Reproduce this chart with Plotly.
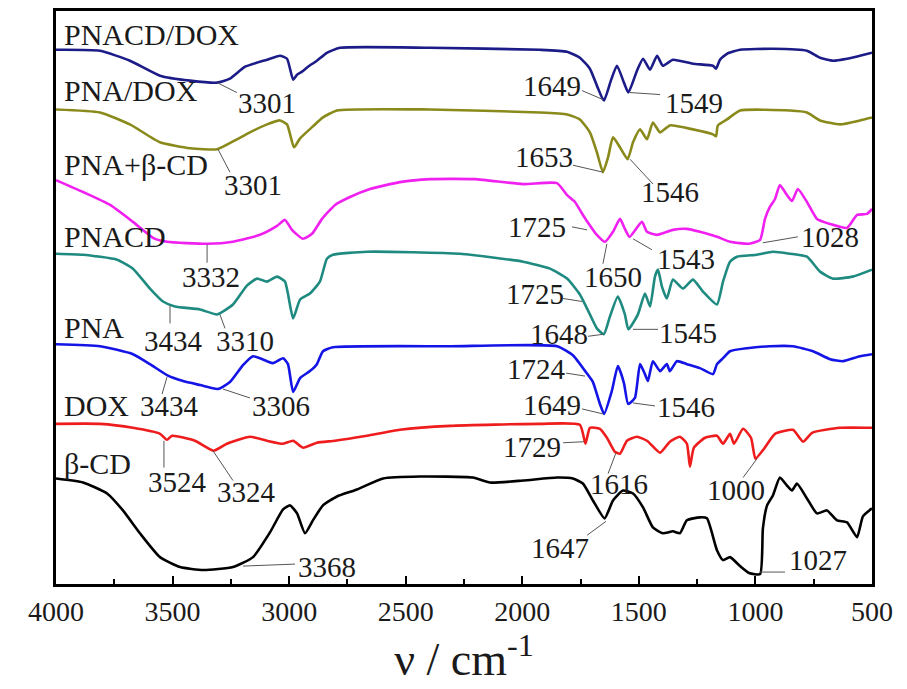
import plotly.graph_objects as go

# ---------------- data (wavenumber in cm^-1, intensity in arbitrary offset units) ----------------
pnacd_dox_wn = [4000, 3811, 3683, 3554, 3425, 3309, 3254, 3189, 3095, 3039, 3009, 2983, 2966, 2945, 2919, 2881,
                2838, 2782, 2396, 1924, 1808, 1753, 1710, 1680, 1650, 1620, 1594, 1564, 1545, 1508, 1482, 1452,
                1422, 1397, 1354, 1268, 1182, 1169, 1152, 1122, 1066, 925, 779, 723, 667, 607, 552, 500]
pnacd_dox_i = [537, 536, 526, 511, 506, 504, 508, 520, 527, 531, 528, 507, 512, 515, 520, 526,
               534, 539, 539, 537, 535, 529, 518, 501, 486, 506, 521, 504, 494, 516, 528, 517,
               531, 521, 527, 523, 521, 518, 527, 533, 537, 538, 536, 529, 526, 528, 531, 534]

pna_dox_wn = [4000, 3811, 3683, 3554, 3425, 3309, 3232, 3168, 3095, 3039, 3009, 2979, 2953, 2898, 2855, 2795,
              2396, 1924, 1808, 1753, 1710, 1680, 1654, 1632, 1611, 1581, 1548, 1525, 1495, 1465, 1440, 1409,
              1367, 1268, 1182, 1169, 1161, 1122, 1066, 852, 779, 723, 637, 552, 500]
pna_dox_i = [477, 474, 462, 444, 438, 437, 446, 454, 462, 466, 462, 439, 448, 460, 469, 476,
             477, 474, 472, 467, 454, 434, 414, 429, 449, 439, 427, 444, 457, 447, 464, 454,
             461, 457, 452, 450, 461, 467, 476, 476, 474, 466, 462, 466, 469]

pna_bcd_wn = [4000, 3884, 3768, 3670, 3584, 3524, 3352, 3241, 3125, 3052, 3018, 2988, 2941, 2902, 2859, 2803,
              2739, 2653, 2525, 2396, 2203, 1997, 1851, 1808, 1774, 1740, 1680, 1645, 1611, 1581, 1560, 1540,
              1487, 1465, 1422, 1354, 1294, 1238, 1165, 1109, 1028, 980, 959, 938, 916, 895, 865, 843,
              818, 779, 736, 680, 607, 564, 522, 500]
pna_bcd_i = [406, 394, 381, 364, 348, 344, 342, 344, 351, 360, 366, 356, 347, 352, 367, 381,
             389, 397, 404, 407, 407, 402, 403, 391, 384, 371, 351, 344, 354, 367, 357, 349,
             364, 354, 351, 356, 357, 354, 349, 344, 342, 346, 367, 379, 387, 401, 391, 385,
             397, 384, 367, 362, 358, 371, 372, 377]

pnacd_wn = [4000, 3884, 3738, 3670, 3597, 3541, 3490, 3382, 3309, 3241, 3181, 3138, 3095, 3052, 3018, 2983,
            2953, 2911, 2868, 2838, 2812, 2666, 2267, 1997, 1881, 1808, 1753, 1710, 1680, 1650, 1624, 1590,
            1560, 1545, 1504, 1474, 1452, 1431, 1418, 1401, 1380, 1354, 1311, 1268, 1225, 1165, 1139, 1109,
            1079, 993, 925, 852, 779, 723, 667, 582, 500]
pnacd_i = [332, 331, 326, 317, 297, 284, 279, 276, 271, 281, 300, 307, 304, 309, 304, 267,
           286, 292, 304, 327, 331, 334, 332, 324, 317, 307, 291, 271, 257, 251, 269, 289,
           271, 256, 271, 292, 279, 309, 316, 299, 287, 306, 297, 306, 294, 281, 304, 324,
           329, 331, 334, 332, 329, 314, 307, 309, 316]

pna_wn = [4000, 3811, 3670, 3597, 3524, 3455, 3382, 3306, 3254, 3198, 3155, 3095, 3069, 3026, 3005, 2983,
          2953, 2911, 2881, 2855, 2812, 2310, 1851, 1783, 1724, 1697, 1667, 1649, 1616, 1590, 1564, 1546,
          1517, 1495, 1474, 1461, 1440, 1409, 1380, 1367, 1337, 1294, 1238, 1182, 1165, 1139, 1109, 1036,
          938, 839, 753, 680, 624, 552, 500]
pna_i = [241, 239, 231, 221, 210, 204, 200, 196, 203, 220, 229, 224, 222, 227, 221, 193,
         207, 214, 221, 234, 238, 239, 239, 230, 212, 203, 181, 171, 194, 219, 202, 181,
         187, 221, 211, 204, 224, 214, 221, 214, 224, 221, 217, 211, 221, 227, 234, 237,
         239, 239, 234, 226, 224, 229, 231]

dox_wn = [4000, 3811, 3670, 3554, 3524, 3502, 3404, 3324, 3267, 3168, 3095, 3026, 2983, 2941, 2881, 2803,
          2666, 2525, 2310, 1924, 1753, 1729, 1710, 1667, 1637, 1603, 1581, 1551, 1508, 1465, 1409, 1367,
          1324, 1294, 1281, 1264, 1216, 1165, 1139, 1109, 1092, 1053, 1019, 1000, 963, 916, 839, 796,
          757, 637, 500]
dox_i = [161, 161, 157, 151, 145, 149, 144, 134, 141, 148, 144, 141, 144, 137, 142, 144,
         149, 155, 159, 161, 160, 141, 157, 156, 147, 133, 131, 144, 148, 144, 132, 143,
         148, 141, 118, 137, 147, 149, 141, 151, 141, 156, 147, 126, 136, 151, 155, 143,
         152, 157, 157]

bcd_wn = [4000, 3884, 3781, 3713, 3640, 3554, 3468, 3368, 3241, 3155, 3082, 3026, 2996, 2966, 2932, 2898,
          2855, 2795, 2709, 2597, 2439, 2212, 2139, 1997, 1851, 1783, 1740, 1697, 1647, 1611, 1568, 1525,
          1482, 1440, 1397, 1354, 1324, 1294, 1238, 1208, 1165, 1139, 1109, 1066, 1027, 980, 968, 950,
          925, 895, 865, 843, 822, 779, 736, 693, 650, 607, 564, 539, 500]
bcd_i = [106, 102, 91, 74, 51, 27, 17, 14, 17, 27, 52, 75, 79, 71, 51, 64,
         79, 88, 95, 106, 108, 107, 102, 104, 107, 106, 101, 84, 66, 84, 94, 91,
         77, 57, 51, 53, 51, 64, 67, 66, 34, 24, 27, 18, 11, 10, 56, 79,
         89, 107, 99, 94, 101, 86, 71, 74, 64, 62, 47, 68, 76]

series_names = ["PNACD/DOX", "PNA/DOX", "PNA+β-CD", "PNACD", "PNA", "DOX", "β-CD"]
series_wn = [pnacd_dox_wn, pna_dox_wn, pna_bcd_wn, pnacd_wn, pna_wn, dox_wn, bcd_wn]
series_i = [pnacd_dox_i, pna_dox_i, pna_bcd_i, pnacd_i, pna_i, dox_i, bcd_i]
series_colors = ["#1c1c88", "#8a8a1c", "#f020f0", "#1f8a80", "#1414e6", "#ee1c1c", "#000000"]
label_y = [552, 496, 422, 349, 258, 179, 121]

tick_vals = [4000, 3500, 3000, 2500, 2000, 1500, 1000, 500]
tick_text = ["4000", "3500", "3000", "2500", "2000", "1500", "1000", "500"]

# peak annotations: text, text position, leader line (from curve point to text)
ann_text = ["3301", "3301", "1649", "1549", "1653", "1546", "1725", "1543", "1650", "1028",
            "3332", "1725", "1648", "1545", "3434", "3310", "1724", "1649", "1546", "3434",
            "3306", "1729", "1616", "1000", "3524", "3324", "3368", "1647", "1027"]
ann_x = [3095, 3155, 1873, 1264, 1907, 1366, 1937, 1298, 1611, 680,
         3335, 1945, 1843, 1289, 3498, 3189, 1941, 1873, 1298, 3515,
         3035, 1958, 1585, 1083, 3481, 3181, 2838, 1838, 732]
ann_y = [484, 401, 501, 484, 429, 394, 359, 327, 309, 349,
         309, 292, 251, 252, 244, 244, 216, 180, 178, 179,
         179, 138, 101, 94, 103, 92, 17, 36, 24]
lead_x0 = [3309, 3305, 1654, 1538, 1654, 1538, 1722, 1525, 1637, 968,
           3352, 1744, 1654, 1525, 3511, 3297, 1731, 1654, 1525, 3524,
           3284, 1735, 1598, 993, 3537, 3327, 3198, 1641, 980]
lead_y0 = [504, 437, 487, 494, 414, 427, 356, 347, 342, 343,
           341, 284, 251, 256, 280, 271, 209, 171, 182, 208,
           196, 143, 132, 126, 144, 134, 18, 63, 12]
lead_x1 = [3224, 3254, 1744, 1409, 1783, 1439, 1787, 1444, 1654, 818,
           3352, 1825, 1718, 1418, 3511, 3275, 1812, 1744, 1431, 3545,
           3168, 1825, 1632, 1053, 3537, 3241, 2975, 1722, 873]
lead_y1 = [494, 414, 496, 492, 421, 402, 359, 336, 322, 349,
           323, 287, 249, 256, 262, 257, 212, 176, 179, 191,
           187, 142, 111, 107, 117, 104, 20, 49, 12]

FONT = "Liberation Serif, Times New Roman, serif"

fig = go.Figure()
for name, xs, ys, col in zip(series_names, series_wn, series_i, series_colors):
    fig.add_trace(go.Scatter(x=xs, y=ys, mode="lines", name=name,
                             line=dict(color=col, width=2.6, shape="spline", smoothing=0.5),
                             showlegend=False))

annotations = []
for name, yy in zip(series_names, label_y):
    annotations.append(dict(x=3975, y=yy, xref="x", yref="y", text=name, showarrow=False,
                            xanchor="left", yanchor="middle",
                            font=dict(family=FONT, size=30, color="#1a1a1a")))
for t, x, y in zip(ann_text, ann_x, ann_y):
    annotations.append(dict(x=x, y=y, xref="x", yref="y", text=t, showarrow=False,
                            xanchor="center", yanchor="middle",
                            font=dict(family=FONT, size=29, color="#1a1a1a")))

shapes = []
for x0, y0, x1, y1 in zip(lead_x0, lead_y0, lead_x1, lead_y1):
    shapes.append(dict(type="line", x0=x0, y0=y0, x1=x1, y1=y1, xref="x", yref="y",
                       line=dict(color="#555555", width=1)))

fig.update_layout(
    width=907, height=689,
    margin=dict(l=56, r=35, t=8, b=105),
    paper_bgcolor="white", plot_bgcolor="white",
    annotations=annotations, shapes=shapes,
    font=dict(family=FONT, color="#000000"),
)
fig.update_xaxes(
    range=[4000, 500], tickvals=tick_vals, ticktext=tick_text,
    ticks="inside", ticklen=8, tickwidth=2, tickcolor="black",
    minor=dict(ticks="inside", dtick=250, ticklen=5, tickwidth=2, tickcolor="black"),
    showline=True, linewidth=3, linecolor="black", mirror=True,
    showgrid=False, zeroline=False,
    tickfont=dict(family=FONT, size=28, color="#1a1a1a"),
    title=dict(text="ν / cm<sup>-1</sup>", font=dict(family=FONT, size=46, color="#1a1a1a"), standoff=4),
)
fig.update_yaxes(
    range=[0, 576], showticklabels=False, ticks="",
    showline=True, linewidth=3, linecolor="black", mirror=True,
    showgrid=False, zeroline=False,
)

fig.write_html("out.html", config={"displayModeBar": False},
               post_script="document.body.style.margin='0';document.body.style.padding='0';")
